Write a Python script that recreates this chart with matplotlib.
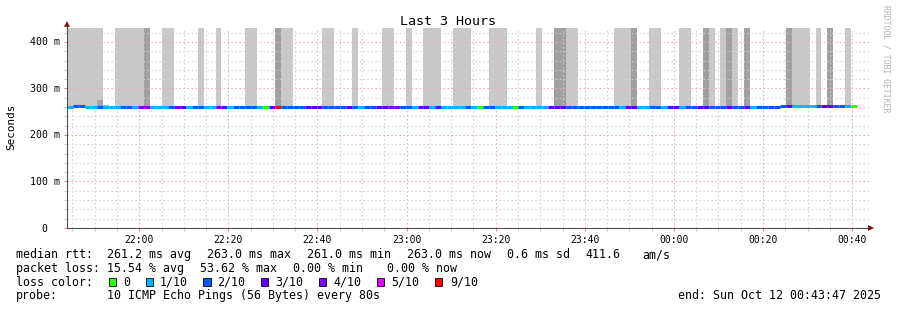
import numpy as np
import matplotlib
matplotlib.use('Agg')
import matplotlib.pyplot as plt
import matplotlib.dates as mdates
from matplotlib.patches import Rectangle
from matplotlib.transforms import blended_transform_factory, ScaledTranslation
from datetime import datetime, timedelta

W, H = 897, 310
MONO = 'DejaVu Sans Mono'

# time range of the graph (80 s probe step)
start = datetime(2025, 10, 11, 21, 43, 47)
end = datetime(2025, 10, 12, 0, 43, 47)
step_s = 80

# median rtt per step (ms)
median_ms = [
    261.0, 262.5, 262.5, 261.0, 261.0, 261.0, 261.0, 261.0, 261.0, 261.0,
    261.0, 261.0, 261.0, 261.0, 261.0, 261.0, 261.0, 261.0, 261.0, 261.0,
    261.0, 261.0, 261.0, 261.0, 261.0, 261.0, 261.0, 261.0, 261.0, 261.0,
    261.0, 261.0, 261.0, 261.0, 261.0, 261.0, 261.0, 261.0, 261.0, 261.0,
    261.0, 261.0, 261.0, 261.0, 261.0, 261.0, 261.0, 261.0, 261.0, 261.0,
    261.0, 261.0, 261.0, 261.0, 261.0, 261.0, 261.0, 261.0, 261.0, 261.0,
    261.0, 261.0, 261.0, 261.0, 261.0, 261.0, 261.0, 261.0, 261.0, 261.0,
    261.0, 261.0, 261.0, 261.0, 261.0, 261.0, 261.0, 261.0, 261.0, 261.0,
    261.0, 261.0, 261.0, 261.0, 261.0, 261.0, 261.0, 261.0, 261.0, 261.0,
    261.0, 261.0, 261.0, 261.0, 261.0, 261.0, 261.0, 261.0, 261.0, 261.0,
    261.0, 261.0, 261.0, 261.0, 261.0, 261.0, 261.0, 261.0, 261.0, 261.0,
    261.0, 261.0, 261.0, 261.0, 261.0, 261.0, 261.0, 261.0, 261.0, 261.0,
    263.0, 263.0, 263.0, 263.0, 263.0, 263.0, 263.0, 263.0, 263.0, 263.0,
    263.0, 263.0, 263.0,
]

# lost pings (of 10) per step
loss = [
    1, 2, 2, 1, 1, 2, 1, 1, 1, 2,
    2, 1, 4, 4, 1, 1, 1, 2, 3, 3,
    1, 2, 2, 1, 1, 3, 3, 1, 2, 2,
    2, 2, 1, 0, 3, 9, 2, 2, 2, 2,
    3, 3, 3, 2, 2, 2, 2, 3, 2, 1,
    2, 2, 3, 3, 4, 4, 2, 2, 1, 3,
    3, 1, 3, 1, 1, 1, 1, 2, 1, 0,
    2, 2, 1, 1, 1, 0, 2, 1, 1, 1,
    1, 3, 3, 3, 2, 2, 2, 2, 2, 2,
    2, 2, 2, 1, 3, 3, 1, 1, 2, 2,
    1, 3, 3, 1, 2, 2, 3, 3, 2, 2,
    2, 3, 2, 2, 3, 1, 2, 2, 2, 2,
    2, 3, 1, 1, 1, 1, 2, 3, 3, 2,
    2, 1, 0,
]

# smoke per step: 0 none, 1 light, 2 dark (reaches above the graph)
smoke = [
    1, 1, 1, 1, 1, 1, 0, 0, 1, 1,
    1, 1, 1, 2, 0, 0, 1, 1, 0, 0,
    0, 0, 1, 0, 0, 1, 0, 0, 0, 0,
    1, 1, 0, 0, 0, 2, 1, 1, 0, 0,
    0, 0, 0, 1, 1, 0, 0, 0, 1, 0,
    0, 0, 0, 1, 1, 0, 0, 1, 0, 0,
    1, 1, 1, 0, 0, 1, 1, 1, 0, 0,
    0, 1, 1, 1, 0, 0, 0, 0, 0, 1,
    0, 0, 2, 2, 1, 1, 0, 0, 0, 0,
    0, 0, 1, 1, 1, 2, 0, 0, 1, 1,
    0, 0, 0, 1, 1, 0, 0, 2, 1, 0,
    1, 2, 1, 0, 2, 0, 0, 0, 0, 0,
    0, 2, 1, 1, 1, 0, 1, 0, 2, 0,
    0, 1, 0,
]
smoke_top_ms = 600.0
# small smoke near the median (step index, top in ms, shade)
small_smoke = [(5, 275.5, '#a4a4a4'), (6, 264.5, '#b8b8b8')]

loss_colors = {0: '#26ff00', 1: '#00b8ff', 2: '#0059ff', 3: '#5e00ff',
               4: '#7e00ff', 5: '#dd00ff', 9: '#ff0000'}
smoke_colors = {1: '#c8c8c8', 2: '#a0a0a0'}

legend_keys = [0, 1, 2, 3, 4, 5, 9]
legend_labels = ['0', '1/10', '2/10', '3/10', '4/10', '5/10', '9/10']

rtt_stats = [261.2, 263.0, 261.0, 263.0]
rtt_sd = 0.6
rtt_ams = 411.6
loss_stats = [15.54, 53.62, 0.00, 0.00]
stat_names = ['avg', 'max', 'min', 'now']
probe_text = '10 ICMP Echo Pings (56 Bytes) every 80s'

yticks = [0.0, 0.1, 0.2, 0.3, 0.4]
ytick_labels = ['  0  ', '100 m', '200 m', '300 m', '400 m']


def fx(x):
    return x / W


def fy(y):
    return 1 - y / H


fig = plt.figure(figsize=(W / 100, H / 100), dpi=100, facecolor='white')
ax = fig.add_axes([fx(67), 82 / H, 802 / W, 200 / H])

t0 = mdates.date2num(start)
dt = step_s / 86400.0
n = len(median_ms)
left = t0 + dt * np.arange(n)

# smoke
for i in range(n):
    if smoke[i]:
        ax.bar(left[i], smoke_top_ms / 1000 - 0.2605, width=dt, bottom=0.2605,
               align='edge', color=smoke_colors[smoke[i]], linewidth=0, zorder=1)
for i, top, c in small_smoke:
    ax.bar(left[i], top / 1000 - 0.2605, width=dt, bottom=0.2605,
           align='edge', color=c, linewidth=0, zorder=1.2)

# median coloured by loss
med = np.array(median_ms) / 1000
ax.hlines(med, left, left + dt, colors=[loss_colors[l] for l in loss],
          linewidth=2.2, zorder=3)

ax.set_xlim(t0, mdates.date2num(end))
ax.set_ylim(0, 0.43)

ax.xaxis.set_major_locator(mdates.MinuteLocator(byminute=[0, 20, 40]))
ax.xaxis.set_minor_locator(mdates.MinuteLocator(byminute=range(0, 60, 5)))
ax.xaxis.set_major_formatter(mdates.DateFormatter('%H:%M'))
ax.set_yticks(yticks)
ax.set_yticks(np.arange(0, 0.43, 0.02), minor=True)
ax.set_yticklabels([])

ax.set_axisbelow('line')
ax.grid(which='minor', color='#d0d0d0', linestyle=(0, (1.5, 2.5)), linewidth=0.72)
ax.grid(which='major', color='#f4a8a8', linestyle=(0, (1.5, 2.5)), linewidth=0.72)

ax.tick_params(which='major', length=2.2, width=0.72, color='#f08080', pad=2.5,
               labelsize=7, direction='out')
ax.tick_params(which='minor', length=2.2, width=0.72, color='#c8c8c8', direction='out')
for lab in ax.get_xticklabels():
    lab.set_family(MONO)

for s in ['top', 'right']:
    ax.spines[s].set_visible(False)
for s in ['left', 'bottom']:
    ax.spines[s].set_color('#505050')
    ax.spines[s].set_linewidth(0.8)
    ax.spines[s].set_zorder(4)

# axis arrows
ax.plot([0, 0], [1.0, 1.02], color='#505050', lw=0.8, transform=ax.transAxes, clip_on=False)
ax.plot([0], [1.022], marker='^', ms=4.5, color='#7a1a1a', mew=0,
        transform=ax.transAxes, clip_on=False, zorder=5)
ax.plot([1.0025], [0], marker='>', ms=4.5, color='#7a1a1a', mew=0,
        transform=ax.transAxes, clip_on=False, zorder=5)

# y labels
ytrans = blended_transform_factory(fig.transFigure, ax.transData) + \
    ScaledTranslation(0, -3.5 / 100, fig.dpi_scale_trans)
for v, lab in zip(yticks, ytick_labels):
    fig.text(fx(30), v, lab, transform=ytrans, ha='left', va='baseline',
             family=MONO, fontsize=7.1, color='black')

fig.text(fx(11), fy(127), 'Seconds', rotation=90, ha='center', va='center',
         family=MONO, fontsize=7.9)
fig.text(fx(448), fy(25), 'Last 3 Hours', ha='center', va='baseline',
         family=MONO, fontsize=9.6)
fig.text(fx(886), fy(59), 'RRDTOOL / TOBI OETIKER', rotation=270, ha='center',
         va='center', family=MONO, fontsize=5.9, color='#b4b4b4')

# legend
fs = 8.4
rows_y = [258, 271.8, 285.6, 299.4]
fig.text(fx(16), fy(rows_y[0]), 'median rtt:', family=MONO, fontsize=fs, va='baseline')
for x, v, nm in zip([107.3, 207.3, 307, 406.7], rtt_stats, stat_names):
    fig.text(fx(x), fy(rows_y[0]), f'{v:.1f} ms {nm}', family=MONO, fontsize=fs, va='baseline')
fig.text(fx(506.7), fy(rows_y[0]), f'{rtt_sd:.1f} ms sd', family=MONO, fontsize=fs, va='baseline')
fig.text(fx(585.7), fy(rows_y[0]), f'{rtt_ams:.1f}', family=MONO, fontsize=fs, va='baseline')
fig.text(fx(642.3), fy(rows_y[0]), 'am/s', family=MONO, fontsize=fs, va='baseline')

fig.text(fx(16), fy(rows_y[1]), 'packet loss:', family=MONO, fontsize=fs, va='baseline')
for x, v, nm in zip([107.3, 200, 293.3, 386.7], loss_stats, stat_names):
    fig.text(fx(x), fy(rows_y[1]), f'{v:.2f} % {nm}', family=MONO, fontsize=fs, va='baseline')

fig.text(fx(16), fy(rows_y[2]), 'loss color:', family=MONO, fontsize=fs, va='baseline')
box_x = [109, 145.7, 203.3, 261, 319, 376.7, 435]
lab_x = [123.3, 160, 217.3, 275.3, 333.3, 391, 450]
for bx, lx, k, lab in zip(box_x, lab_x, legend_keys, legend_labels):
    fig.add_artist(Rectangle((fx(bx), fy(286)), 7.2 / W, 7.6 / H, transform=fig.transFigure,
                             facecolor=loss_colors[k], edgecolor='black', linewidth=0.6))
    fig.text(fx(lx), fy(rows_y[2]), lab, family=MONO, fontsize=fs, va='baseline')

fig.text(fx(16), fy(rows_y[3]), 'probe:', family=MONO, fontsize=fs, va='baseline')
fig.text(fx(107.3), fy(rows_y[3]), probe_text, family=MONO, fontsize=fs, va='baseline')
fig.text(fx(881), fy(rows_y[3]), 'end: ' + end.strftime('%a %b %d %H:%M:%S %Y'),
         family=MONO, fontsize=fs, va='baseline', ha='right')

fig.savefig('out.png', dpi=100, facecolor='white')
